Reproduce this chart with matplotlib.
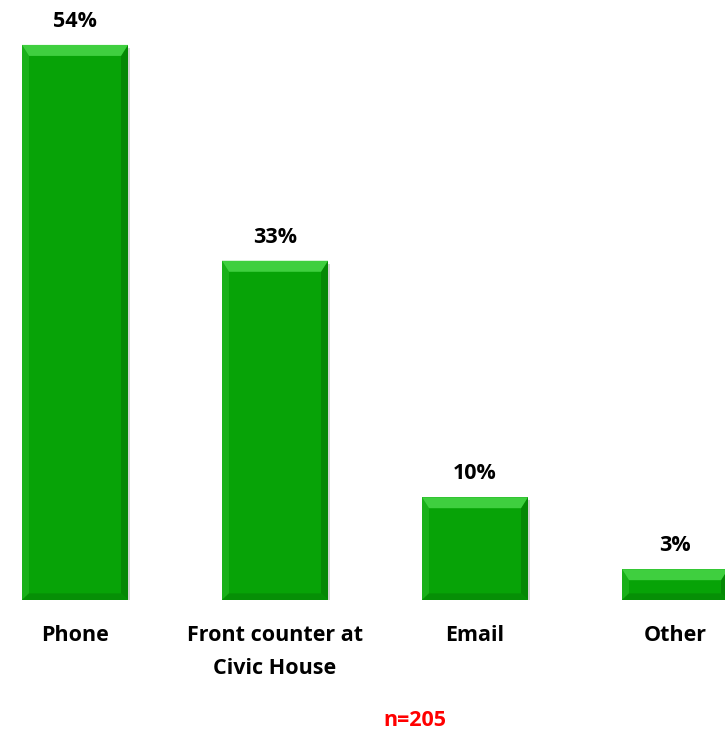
import numpy as np
import matplotlib.pyplot as plt
from matplotlib.patches import Polygon

plt.rcParams['font.family'] = ['Open Sans', 'DejaVu Sans']

categories = ['Phone', 'Front counter at\nCivic House', 'Email', 'Other']
values = [54, 33, 10, 3]
sample_note = 'n=205'

fig = plt.figure(figsize=(7.25, 7.37), dpi=100)
ax = fig.add_axes([0, 137 / 737, 1, 600 / 737])

x = np.arange(len(categories))
bw = 0.53
bars = ax.bar(x, values, width=bw, color='#07a307', edgecolor='none', zorder=2)
ax.set_xlim(-0.375, 3.25)
ax.set_ylim(0, 58.37)

# bevel edges: sizes in pixels converted to data units
px_x = 1 / 200.0
px_y = 58.37 / 600.0
bx = 7 * px_x
by = 11 * px_y
for b in bars:
    x0, x1 = b.get_x(), b.get_x() + b.get_width()
    y0, y1 = 0, b.get_height()
    # shadow
    ax.add_patch(plt.Rectangle((x0 + 2 * px_x, y0 - 3 * px_y), x1 - x0, y1 - y0,
                               color='#d4d4d4', zorder=1, lw=0))
    top = [(x0, y1), (x1, y1), (x1 - bx, y1 - by), (x0 + bx, y1 - by)]
    bottom = [(x0, y0), (x1, y0), (x1 - bx, y0 + by * 0.6), (x0 + bx, y0 + by * 0.6)]
    left = [(x0, y0), (x0, y1), (x0 + bx, y1 - by), (x0 + bx, y0 + by * 0.6)]
    right = [(x1, y0), (x1, y1), (x1 - bx, y1 - by), (x1 - bx, y0 + by * 0.6)]
    for pts, c in [(left, '#19b019'), (right, '#058805'),
                   (bottom, '#068f06'), (top, '#3fcf3f')]:
        ax.add_patch(Polygon(pts, closed=True, color=c, lw=0, zorder=3))
    ax.text(b.get_x() + b.get_width() / 2, y1 + 13 * px_y, f'{b.get_height():.0f}%',
            ha='center', va='bottom', fontsize=15.5, fontweight='bold', zorder=4)

ax.set_xticks(x)
ax.set_xticklabels(categories, fontsize=15.5, fontweight='bold', linespacing=1.75)
ax.tick_params(axis='x', length=0, pad=18)
ax.set_yticks([])
for s in ax.spines.values():
    s.set_visible(False)

fig.text(415 / 725, 1 - 721 / 737, sample_note, color='#ff0000', fontsize=15.5,
         fontweight='bold', ha='center', va='center')

fig.savefig('out.png', dpi=100)
